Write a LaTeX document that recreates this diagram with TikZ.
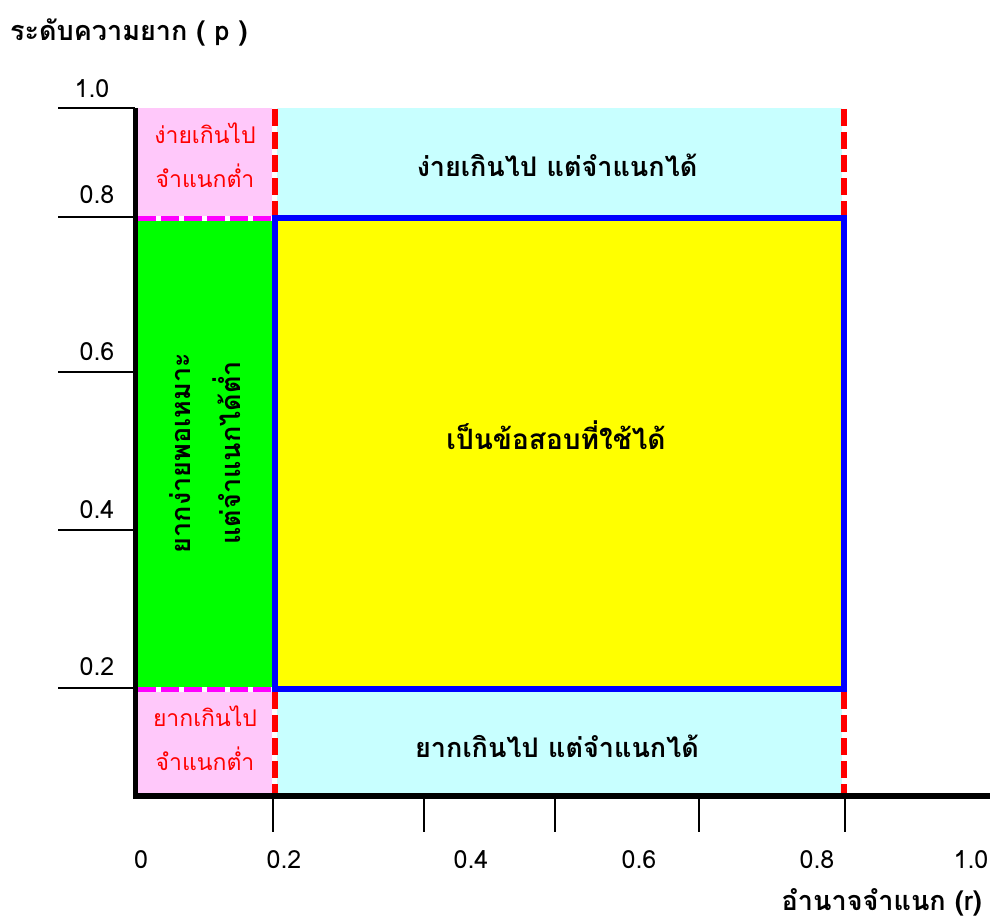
\documentclass[tikz,border=0pt]{standalone}
\usepackage{fontspec}
\setmainfont{Loma}[Script=Thai]
\definecolor{pinkbg}{RGB}{255,200,250}
\definecolor{cyanbg}{RGB}{200,255,255}
\definecolor{greenbg}{RGB}{0,255,0}
\definecolor{yellowbg}{RGB}{255,255,0}
\definecolor{bluebd}{RGB}{0,0,255}
\definecolor{redd}{RGB}{255,0,0}
\definecolor{magd}{RGB}{255,0,255}
\tikzset{
  reddash/.style={draw=redd, line width=6pt, dash pattern=on 17pt off 6pt},
  magdash/.style={draw=magd, line width=5pt, dash pattern=on 18pt off 5pt},
  gapline/.style={draw=white, line width=5pt},
  axisline/.style={draw=black, line width=6pt},
  tickline/.style={draw=black, line width=2pt},
  numlbl/.style={font=\fontsize{25}{28}\selectfont, inner sep=0pt},
  boldlbl/.style={font=\fontsize{27}{30}\selectfont\bfseries, inner sep=0pt, align=center},
  redlbl/.style={font=\fontsize{23}{44}\selectfont, text=redd, inner sep=0pt, align=center},
}
\begin{document}
\begin{tikzpicture}[x=1pt,y=-1pt]
\useasboundingbox (0,0) rectangle (992,923);
% regions
\fill[pinkbg] (138,108) rectangle (274,218);
\fill[cyanbg] (274,108) rectangle (844,218);
\fill[greenbg] (138,218) rectangle (274,689);
\fill[yellowbg] (274,218) rectangle (844,689);
\fill[pinkbg] (138,689) rectangle (274,793);
\fill[cyanbg] (274,689) rectangle (844,793);
% dashed separators
\draw[gapline] (138,218) -- (274,218);
\draw[magdash] (138,218) -- (274,218);
\draw[gapline] (138,689) -- (274,689);
\draw[magdash] (138,689) -- (274,689);
\draw[gapline] (274.5,108) -- (274.5,218);
\draw[reddash] (274.5,109) -- (274.5,218);
\draw[gapline] (844,108) -- (844,218);
\draw[reddash] (844,109) -- (844,218);
\draw[gapline] (274.5,689) -- (274.5,793);
\draw[reddash] (274.5,692) -- (274.5,793);
\draw[gapline] (844,689) -- (844,793);
\draw[reddash] (844,692) -- (844,793);
% blue frame
\draw[draw=bluebd, line width=6pt] (274.5,218) rectangle (844,689);
% axes
\draw[draw=black, line width=5pt] (135.5,108) -- (135.5,799);
\draw[axisline] (133,796) -- (990,796);
% y ticks
\foreach \yy in {108,217,372,530,688} \draw[tickline] (58,\yy) -- (135,\yy);
% x ticks
\foreach \xx in {273,424,555,699,845} \draw[tickline] (\xx,799) -- (\xx,832);
% y tick labels
\node[numlbl] (y10) at (92,89) {1.0};
\node[numlbl] (y08) at (97,195) {0.8};
\node[numlbl] (y06) at (97,352) {0.6};
\node[numlbl] (y04) at (97,510) {0.4};
\node[numlbl] (y02) at (97,667) {0.2};
% x tick labels
\node[numlbl] (x0) at (141,860) {0};
\node[numlbl] (x02) at (284,860) {0.2};
\node[numlbl] (x04) at (471,860) {0.4};
\node[numlbl] (x06) at (639,860) {0.6};
\node[numlbl] (x08) at (817,860) {0.8};
\node[numlbl] (x10) at (971,860) {1.0};
% axis titles
\node[boldlbl, anchor=base west] (ytitle) at (10,41) {ระดับความยาก ( p )};
\node[boldlbl, anchor=base east] (xtitle) at (982,910) {อำนาจจำแนก (r)};
% region texts
\node[redlbl] (tl) at (205,155) {ง่ายเกินไป\\จำแนกต่ำ};
\node[redlbl] (bl) at (205,738) {ยากเกินไป\\จำแนกต่ำ};
\node[boldlbl] (tc) at (557,165) {ง่ายเกินไป\hspace{0.35em}แต่จำแนกได้};
\node[boldlbl] (bc) at (557,746) {ยากเกินไป\hspace{0.35em}แต่จำแนกได้};
\node[boldlbl, font=\fontsize{28}{30}\selectfont\bfseries] (mc) at (556,435) {เป็นข้อสอบที่ใช้ได้};
\node[boldlbl, rotate=90, font=\fontsize{27}{50}\selectfont\bfseries] (ml) at (205,453) {ยากง่ายพอเหมาะ\\แต่จำแนกได้ต่ำ};
\end{tikzpicture}
\end{document}
